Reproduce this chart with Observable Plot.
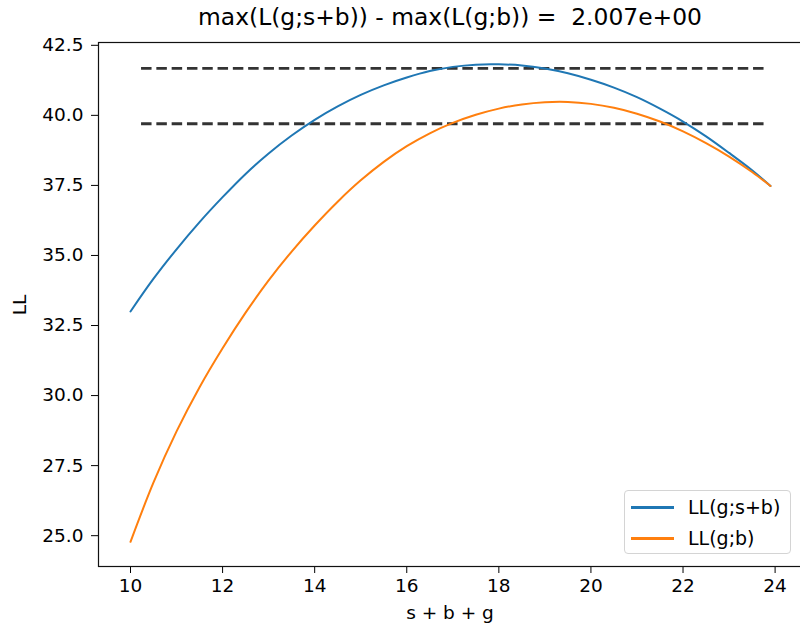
<!DOCTYPE html>
<html>
<head>
<meta charset="utf-8">
<script src="https://cdn.jsdelivr.net/npm/d3@7"></script>
<script src="https://cdn.jsdelivr.net/npm/@observablehq/plot@0.6"></script>
<style>
  html, body { margin: 0; padding: 0; background: white; }
  #fig { position: relative; width: 800px; height: 626px; overflow: hidden; font-family: "DejaVu Sans", sans-serif; color: #000; }
  #fig svg { position: absolute; left: 0; top: 0; }
  .title { position: absolute; left: 98px; width: 704px; top: 2px; text-align: center; font-size: 23.4px; line-height: 30px; white-space: pre; }
  .xlabel { position: absolute; left: 98px; width: 704px; top: 600px; text-align: center; font-size: 18.5px; line-height: 26px; }
  .ylabel { position: absolute; left: 20px; top: 305px; transform: translate(-50%, -50%) rotate(-90deg); font-size: 18.5px; line-height: 22px; }
  .legend { position: absolute; left: 624px; top: 490px; width: 167px; height: 64px; border: 1px solid #d4d4d4; border-radius: 4px; background: rgba(255,255,255,0.8); box-sizing: border-box; }
  .legend .row { position: absolute; left: 0; height: 30px; width: 100%; }
  .legend .sw { position: absolute; left: 6px; width: 43px; height: 2.6px; }
  .legend .lab { position: absolute; left: 63px; font-size: 19px; line-height: 24px; white-space: pre; }
</style>
</head>
<body>
<div id="fig"></div>
<script>
// ---- data ----
const sbg = [10, 10.5, 11, 11.5, 12, 12.5, 13, 13.5, 14, 14.5, 15, 15.5, 16, 16.5, 17, 17.5, 18, 18.5, 19, 19.5, 20, 20.5, 21, 21.5, 22, 22.5, 23, 23.5, 23.9];
const llSB = [33.00, 34.17, 35.22, 36.19, 37.08, 37.91, 38.64, 39.28, 39.84, 40.32, 40.73, 41.07, 41.35, 41.58, 41.73, 41.81, 41.82, 41.78, 41.67, 41.50, 41.27, 40.99, 40.65, 40.24, 39.78, 39.25, 38.66, 38.04, 37.48];
const llB = [24.78, 26.90, 28.72, 30.30, 31.69, 32.96, 34.11, 35.14, 36.07, 36.92, 37.68, 38.34, 38.90, 39.36, 39.73, 40.02, 40.24, 40.39, 40.47, 40.48, 40.41, 40.27, 40.06, 39.78, 39.43, 39.01, 38.53, 37.98, 37.48];
const dashLevels = [41.68, 39.70];
const dashXStart = 10.24;
const dashXEnd = 23.85;
const xTicks = [10, 12, 14, 16, 18, 20, 22, 24];
const yTicks = [25.0, 27.5, 30.0, 32.5, 35.0, 37.5, 40.0, 42.5];
const seriesNames = ["LL(g;s+b)", "LL(g;b)"];
const seriesColors = ["#1f77b4", "#ff7f0e"];
const titleText = "max(L(g;s+b)) - max(L(g;b)) =  2.007e+00";
const xLabel = "s + b + g";
const yLabel = "LL";

const sbRows = sbg.map((x, i) => ({x, ll: llSB[i]}));
const bRows = sbg.map((x, i) => ({x, ll: llB[i]}));

const chart = Plot.plot({
  width: 800,
  height: 626,
  marginLeft: 98,
  marginRight: -2,
  marginTop: 42,
  marginBottom: 60,
  style: {fontFamily: "DejaVu Sans", fontSize: "18.5px", color: "#000", background: "transparent"},
  x: {domain: [9.305, 24.595], ticks: xTicks, tickFormat: d => String(d), label: null, tickSize: 7, tickPadding: 5},
  y: {domain: [23.9, 42.6], ticks: yTicks, tickFormat: d3.format(".1f"), label: null, tickSize: 7, tickPadding: 8},
  marks: [
    Plot.ruleY(dashLevels, {y: d => d, x1: dashXStart, x2: dashXEnd, stroke: "#333", strokeWidth: 2.8, strokeDasharray: "10.5,4.8"}),
    Plot.line(sbRows, {x: "x", y: "ll", stroke: seriesColors[0], strokeWidth: 2, curve: "catmull-rom"}),
    Plot.line(bRows, {x: "x", y: "ll", stroke: seriesColors[1], strokeWidth: 2, curve: "catmull-rom"}),
    Plot.frame({stroke: "#111", strokeWidth: 1.2})
  ]
});

const fig = document.getElementById("fig");
fig.appendChild(chart);

const t = document.createElement("div"); t.className = "title"; t.textContent = titleText; fig.appendChild(t);
const xl = document.createElement("div"); xl.className = "xlabel"; xl.textContent = xLabel; fig.appendChild(xl);
const yl = document.createElement("div"); yl.className = "ylabel"; yl.textContent = yLabel; fig.appendChild(yl);

const lg = document.createElement("div"); lg.className = "legend";
seriesNames.forEach((name, i) => {
  const row = document.createElement("div"); row.className = "row"; row.style.top = (2 + i * 31) + "px";
  const sw = document.createElement("div"); sw.className = "sw"; sw.style.background = seriesColors[i]; sw.style.top = "13px";
  const lab = document.createElement("div"); lab.className = "lab"; lab.textContent = name; lab.style.top = "2px";
  row.appendChild(sw); row.appendChild(lab); lg.appendChild(row);
});
fig.appendChild(lg);
</script>
</body>
</html>
